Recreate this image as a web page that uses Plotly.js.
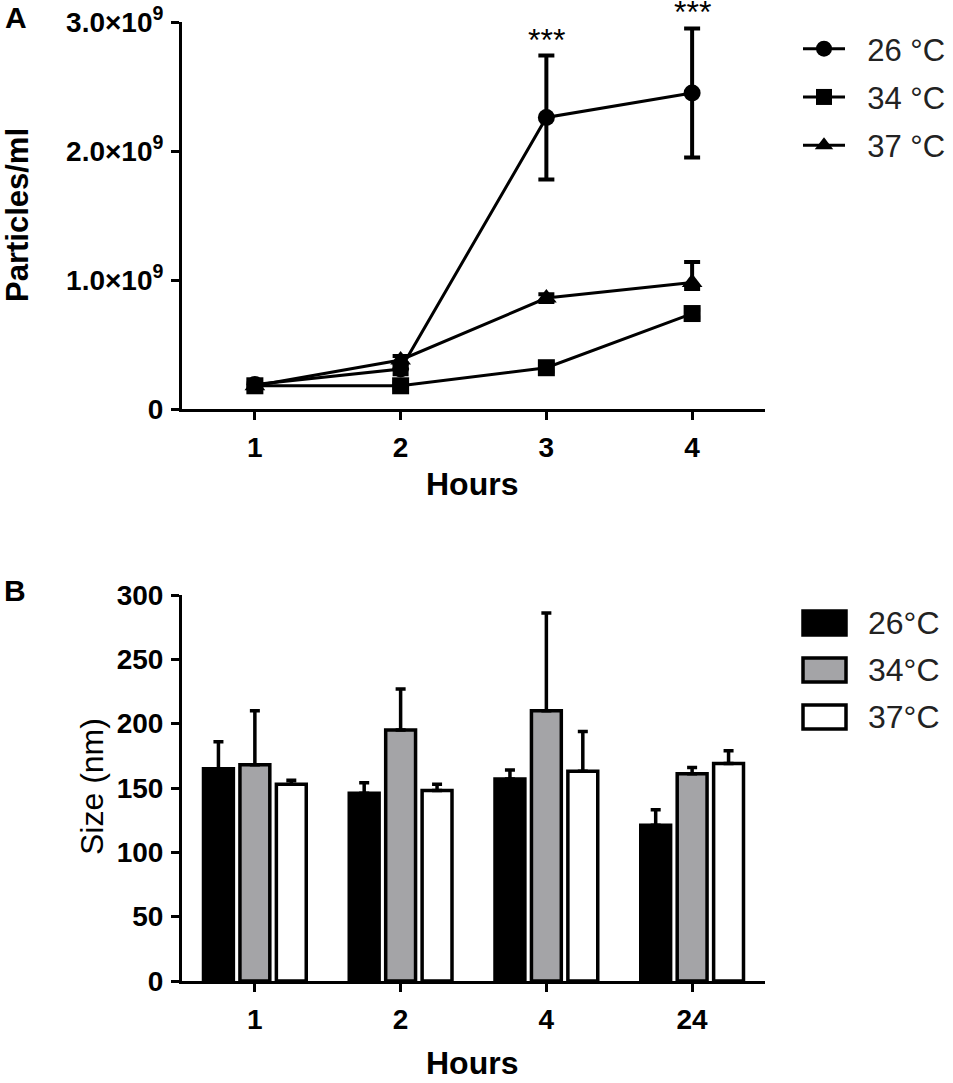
<!DOCTYPE html>
<html>
<head>
<meta charset="utf-8">
<script src="https://cdn.plot.ly/plotly-3.0.1.min.js"></script>
<style>
  html, body { margin: 0; padding: 0; background: #fff; }
  #chart { width: 953px; height: 1083px; }
</style>
</head>
<body>
<div id="chart"></div>
<script>
// Panel A: particle counts over time
const hoursA = [1, 2, 3, 4];
const particles26 = [0.19e9, 0.31e9, 2.26e9, 2.45e9];
const particles26Sd = [0.03e9, 0.04e9, 0.48e9, 0.50e9];
const particles34 = [0.18e9, 0.18e9, 0.32e9, 0.74e9];
const particles34Sd = [0.02e9, 0.02e9, 0.03e9, 0.03e9];
const particles37 = [0.18e9, 0.38e9, 0.86e9, 0.98e9];
const particles37Up = [0.02e9, 0.03e9, 0.03e9, 0.16e9];
const particles37Down = [0.02e9, 0.03e9, 0.03e9, 0.05e9];
const starsAt = [3, 4];
const yTicksA = [0, 1e9, 2e9, 3e9];
const yTickTextA = ['0', '1.0\u00d710<sup>9</sup>', '2.0\u00d710<sup>9</sup>', '3.0\u00d710<sup>9</sup>'];
const namesA = ['26 \u00b0C', '34 \u00b0C', '37 \u00b0C'];

// Panel B: particle size
const hoursB = ['1', '2', '4', '24'];
const size26 = [165, 146, 157, 121];
const size26Sd = [21, 8, 7, 12];
const size34 = [168, 195, 210, 161];
const size34Sd = [42, 32, 76, 5];
const size37 = [153, 148, 163, 169];
const size37Sd = [3, 5, 31, 10];
const namesB = ['26\u00b0C', '34\u00b0C', '37\u00b0C'];
const fillsB = ['#000000', '#a4a4a7', '#ffffff'];

const W = 953, H = 1083;
const px = x => x / W;
const py = y => 1 - y / H;
const FONT = 'Liberation Sans, Arial, sans-serif';
const PAD = '\u00a0\u00a0'; // gap between legend line and label

function lineTrace(name, y, up, down, symbol, rank) {
  return {
    x: hoursA, y: y, name: PAD + name, type: 'scatter', mode: 'lines+markers',
    xaxis: 'x', yaxis: 'y', legendgroup: name, legendrank: rank, cliponaxis: false,
    line: {color: '#000', width: 3},
    marker: {color: '#000', size: symbol === 'triangle-up' ? 18 : 17, symbol: symbol},
    error_y: {type: 'data', symmetric: false, array: up, arrayminus: down,
      color: '#000', thickness: 4, width: 8}
  };
}

function barTrace(name, y, sd, fill) {
  return {
    x: hoursB, y: y, name: name, type: 'bar', xaxis: 'x2', yaxis: 'y2',
    showlegend: false,
    marker: {color: fill, line: {color: '#000', width: 3.5}},
    error_y: {type: 'data', symmetric: false, array: sd, arrayminus: sd.map(() => 0),
      color: '#000', thickness: 3.5, width: 5}
  };
}

const traces = [
  lineTrace(namesA[0], particles26, particles26Sd, particles26Sd, 'circle', 1),
  lineTrace(namesA[2], particles37, particles37Up, particles37Down, 'triangle-up', 3),
  lineTrace(namesA[1], particles34, particles34Sd, particles34Sd, 'square', 2),
  barTrace(namesB[0], size26, size26Sd, fillsB[0]),
  barTrace(namesB[1], size34, size34Sd, fillsB[1]),
  barTrace(namesB[2], size37, size37Sd, fillsB[2])
];

const axisCommon = {
  showline: true, linecolor: '#000', linewidth: 3,
  ticks: 'outside', ticklen: 8, tickwidth: 3, tickcolor: '#000',
  showgrid: false, zeroline: false,
  tickfont: {family: FONT, size: 28, color: '#000', weight: 'bold'}
};

const annotations = [
  {text: 'A', x: px(16), y: py(18), size: 30},
  {text: 'B', x: px(15), y: py(590), size: 30},
  {text: 'Particles/ml', x: px(17), y: py(215), textangle: -90, size: 31},
  {text: 'Hours', x: px(472), y: py(484), size: 32},
  {text: 'Size (nm)', x: px(92), y: py(787), textangle: -90, size: 32, weight: 'normal'},
  {text: 'Hours', x: px(472), y: py(1063), size: 32}
].map(a => ({
  text: a.text, x: a.x, y: a.y, xref: 'paper', yref: 'paper',
  xanchor: 'center', yanchor: 'middle', showarrow: false, textangle: a.textangle || 0,
  font: {family: FONT, size: a.size, color: '#000', weight: a.weight || 'bold'}
}));

starsAt.forEach(h => {
  const i = hoursA.indexOf(h);
  annotations.push({
    text: '***', x: h, y: particles26[i] + particles26Sd[i], xref: 'x', yref: 'y',
    xanchor: 'center', yanchor: 'bottom', showarrow: false, yshift: -4,
    font: {family: FONT, size: 32, color: '#000'}
  });
});

// Panel B legend drawn as boxes + labels
const shapes = [];
namesB.forEach((n, i) => {
  const cy = 623 + i * 47;
  shapes.push({type: 'rect', xref: 'paper', yref: 'paper',
    x0: px(803), x1: px(846), y0: py(cy + 12), y1: py(cy - 12),
    fillcolor: fillsB[i], line: {color: '#000', width: 3.5}});
  annotations.push({text: n, x: px(866), y: py(cy), xref: 'paper', yref: 'paper',
    xanchor: 'left', yanchor: 'middle', showarrow: false,
    font: {family: FONT, size: 32, color: '#222'}});
});

const layout = {
  width: W, height: H,
  margin: {l: 0, r: 0, t: 0, b: 0},
  paper_bgcolor: '#fff', plot_bgcolor: '#fff',
  showlegend: true,
  legend: {x: px(798), y: py(22), xanchor: 'left', yanchor: 'top',
    font: {family: FONT, size: 31, color: '#222'}, tracegroupgap: 5,
    itemwidth: 42, bgcolor: 'rgba(0,0,0,0)'},
  barmode: 'group', bargap: 0.25, bargroupgap: 0.18,
  xaxis: Object.assign({}, axisCommon, {domain: [px(182), px(765)], range: [0.5, 4.5],
    tickvals: hoursA, anchor: 'y', ticklabelstandoff: 3}),
  yaxis: Object.assign({}, axisCommon, {domain: [py(409), py(22)], range: [0, 3e9],
    tickvals: yTicksA, ticktext: yTickTextA, anchor: 'x', ticklabelstandoff: 2}),
  xaxis2: Object.assign({}, axisCommon, {domain: [px(182), px(765)], type: 'category',
    range: [-0.5, 3.5], anchor: 'y2', ticklabelstandoff: 3}),
  yaxis2: Object.assign({}, axisCommon, {domain: [py(981), py(595)], range: [0, 300],
    dtick: 50, anchor: 'x2', ticklabelstandoff: 2}),
  annotations: annotations,
  shapes: shapes
};

Plotly.newPlot('chart', traces, layout, {displayModeBar: false, staticPlot: true});
</script>
</body>
</html>
